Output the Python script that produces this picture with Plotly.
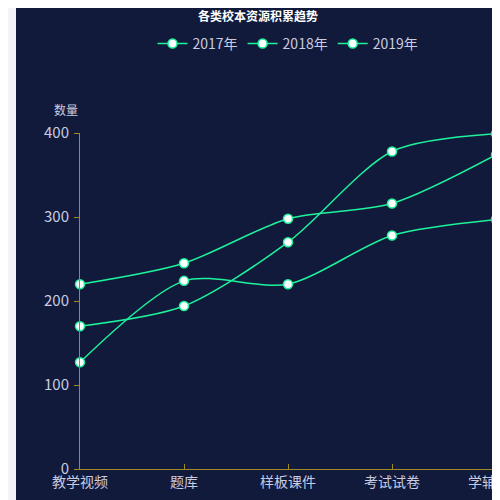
import plotly.graph_objects as go

categories = ["教学视频", "题库", "样板课件", "考试试卷", "学辅资源"]
years = ["2017年", "2018年", "2019年"]
values_2017 = [220, 245, 298, 316, 374]
values_2018 = [170, 194, 270, 378, 399]
values_2019 = [127, 224, 220, 278, 297]

fig = go.Figure()
for name, vals in zip(years, [values_2017, values_2018, values_2019]):
    fig.add_trace(go.Scatter(
        x=categories, y=vals, name=name, mode="lines+markers",
        line=dict(color="#1ef29b", width=1.5, shape="spline", smoothing=0.8),
        marker=dict(color="white", size=9, line=dict(color="#1ef29b", width=1.5)),
        cliponaxis=False,
    ))

axis_color = "#a08a26"
fig.update_layout(
    width=500, height=500,
    paper_bgcolor="#121a3b", plot_bgcolor="#121a3b",
    margin=dict(l=72, r=12, t=125, b=39, autoexpand=False),
    font=dict(family="Noto Sans CJK SC", color="#c8cce0", size=13),
    title=dict(text="<b>各类校本资源积累趋势</b>", x=0.5, y=0.99, yanchor="top",
               font=dict(size=12, color="white")),
    legend=dict(orientation="h", x=0.5, xanchor="center", y=1.265, yanchor="middle",
                font=dict(size=14, color="#c8cce0")),
    showlegend=True,
    xaxis=dict(range=[0, 4], showgrid=False, zeroline=False, showline=True,
               linecolor=axis_color, ticks="inside", tickcolor=axis_color, ticklen=5,
               tickfont=dict(size=14, color="#c8cce0")),
    yaxis=dict(range=[0, 400], dtick=100, showgrid=False, zeroline=False, showline=True,
               linecolor=axis_color, ticks="outside", tickcolor=axis_color, ticklen=5,
               ticklabelstandoff=2, tickfont=dict(size=15, color="#c8cce0")),
    annotations=[dict(text="数量", xref="paper", yref="paper", x=0.0, y=1.04,
                      xanchor="right", yanchor="bottom", showarrow=False,
                      font=dict(size=12, color="#c8cce0"))],
    shapes=[dict(type="rect", xref="paper", yref="paper", x0=-72/416, x1=-64/416,
                 y0=-0.2, y1=1.5, fillcolor="#f3f4f8", line=dict(width=0), layer="above")],
)
fig.write_html("out.html")
